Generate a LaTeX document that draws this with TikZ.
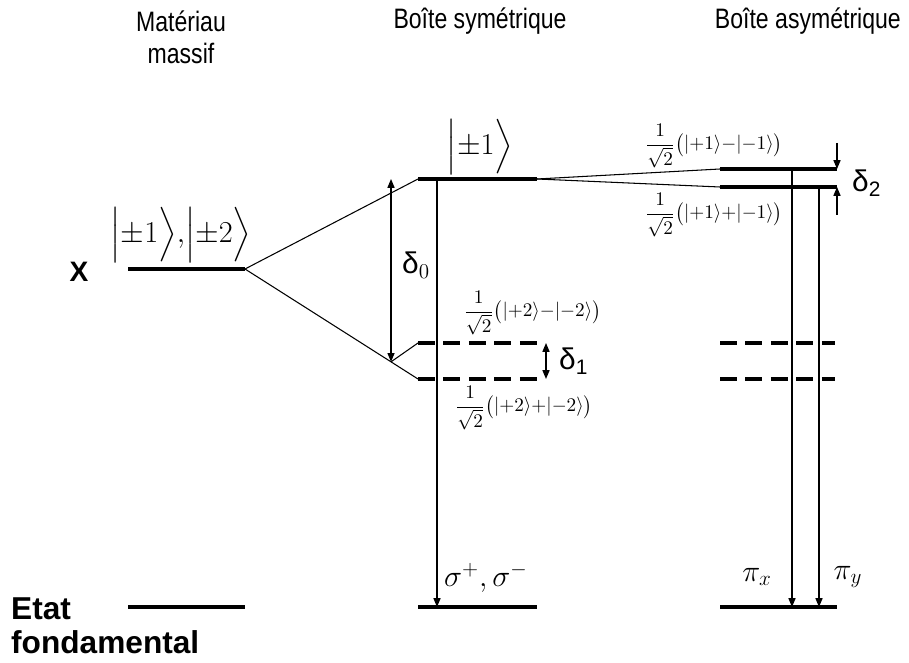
\documentclass[tikz,border=0pt]{standalone}
\usepackage{amsmath}
\usepackage{fontspec}
\setmainfont{Liberation Sans}
\newfontfamily\titlefont[FakeStretch=0.82]{Liberation Sans}
\usetikzlibrary{arrows.meta,calc}

\begin{document}
\begin{tikzpicture}[>={Triangle[length=5pt,width=4pt]},
  lev/.style={line width=2.2pt},
  dlev/.style={line width=2.2pt,dash pattern=on 9.5pt off 5pt},
  lnk/.style={line width=0.6pt},
  tr/.style={->,line width=0.7pt},
  dbl/.style={<->,line width=0.7pt},
  title/.style={font=\titlefont\fontsize{16}{18}\selectfont,align=center},
  ket/.style={font=\fontsize{16}{20}\selectfont},
  mix/.style={font=\fontsize{10.5}{13}\selectfont},
  dl/.style={font=\fontsize{17}{20}\selectfont,anchor=west}]
\useasboundingbox (0,0) rectangle (18.18,-13.26);
% titres
\node[title] (tM) at (3.62,-0.74) {Matériau\\massif};
\node[title] (tS) at (9.6,-0.42) {Boîte symétrique};
\node[title,anchor=east] (tA) at (18.14,-0.42) {Boîte asymétrique};
\node[font=\fontsize{16}{18}\selectfont\bfseries] (nX) at (1.58,-5.44) {X};
\node[font=\fontsize{18}{19}\selectfont\bfseries,align=left,anchor=north west] (nEF) at (0.1,-11.84) {Etat\\fondamental};
% materiau massif
\coordinate (mXl) at (2.56,-5.38);
\coordinate (mXr) at (4.90,-5.38);
\coordinate (mGl) at (2.56,-12.14);
\coordinate (mGr) at (4.90,-12.14);
\draw[lev] (mXl) -- (mXr);
\draw[lev] (mGl) -- (mGr);
\node[ket] (kM) at (3.62,-4.7) {$\Big|{\pm}1\Big\rangle{,}\Big|{\pm}2\Big\rangle$};
% boite symetrique
\coordinate (sTl) at (8.36,-3.58);
\coordinate (sTr) at (10.74,-3.58);
\coordinate (sAl) at (8.36,-6.86);
\coordinate (sAr) at (10.74,-6.86);
\coordinate (sBl) at (8.36,-7.58);
\coordinate (sBr) at (10.74,-7.58);
\coordinate (sGl) at (8.36,-12.14);
\coordinate (sGr) at (10.74,-12.14);
\draw[lev] (sTl) -- (sTr);
\draw[dlev] (sAl) -- (sAr);
\draw[dlev] (sBl) -- (sBr);
\draw[lev] (sGl) -- (sGr);
\draw[lnk] (mXr) -- (sTl);
\draw[lnk] (mXr) -- (sBl);
\coordinate (sp) at ($(mXr)!0.844!(sBl)$);
\draw[lnk] (sp) -- (sAl);
\draw[dbl] (sp |- sTl) -- (sp);
\node[dl] (d0) at (7.92,-5.3) {δ$_0$};
\coordinate (d1t) at (10.92,-6.86);
\coordinate (d1b) at (10.92,-7.58);
\draw[dbl] (d1t) -- (d1b);
\node[dl] (d1) at (11.06,-7.22) {δ\textsubscript{1}};
\node[ket] (kS) at (9.6,-2.94) {$\Big|{\pm}1\Big\rangle$};
\node[mix] (mS1) at (10.65,-6.26) {$\dfrac{1}{\sqrt{2}}\big(|{+}2\rangle{-}|{-}2\rangle\big)$};
\node[mix] (mS2) at (10.48,-8.16) {$\dfrac{1}{\sqrt{2}}\big(|{+}2\rangle{+}|{-}2\rangle\big)$};
\coordinate (sv) at (8.74,-3.58);
\draw[tr] (sv) -- (sv |- sGl);
\node[ket,font=\fontsize{17}{20}\selectfont] (sig) at (9.72,-11.56) {$\sigma^+,\sigma^-$};
% boite asymetrique
\coordinate (aTl) at (14.40,-3.38);
\coordinate (aTr) at (16.74,-3.38);
\coordinate (aUl) at (14.40,-3.74);
\coordinate (aUr) at (16.74,-3.74);
\coordinate (aAl) at (14.40,-6.86);
\coordinate (aAr) at (16.70,-6.86);
\coordinate (aBl) at (14.40,-7.58);
\coordinate (aBr) at (16.70,-7.58);
\coordinate (aGl) at (14.40,-12.14);
\coordinate (aGr) at (16.74,-12.14);
\draw[lev] (aTl) -- (aTr);
\draw[lev] (aUl) -- (aUr);
\draw[dlev] (aAl) -- (aAr);
\draw[dlev] (aBl) -- (aBr);
\draw[lev] (aGl) -- (aGr);
\draw[lnk] (sTr) -- (aTl);
\draw[lnk] (sTr) -- (aUl);
\coordinate (d2t) at (16.74,-2.86);
\coordinate (d2b) at (16.74,-4.30);
\draw[tr] (d2t) -- (aTr);
\draw[tr] (d2b) -- (aUr);
\node[dl] (d2) at (16.92,-3.66) {δ\textsubscript{2}};
\node[mix] (mA1) at (14.28,-2.92) {$\dfrac{1}{\sqrt{2}}\big(|{+}1\rangle{-}|{-}1\rangle\big)$};
\node[mix] (mA2) at (14.28,-4.3) {$\dfrac{1}{\sqrt{2}}\big(|{+}1\rangle{+}|{-}1\rangle\big)$};
\coordinate (av1) at (15.84,-3.38);
\coordinate (av2) at (16.38,-3.74);
\draw[tr] (av1) -- (av1 |- aGl);
\draw[tr] (av2) -- (av2 |- aGl);
\node[ket,font=\fontsize{17}{20}\selectfont] (pix) at (15.14,-11.54) {$\pi_x$};
\node[ket,font=\fontsize{17}{20}\selectfont] (piy) at (16.96,-11.54) {$\pi_y$};
\end{tikzpicture}
\end{document}
